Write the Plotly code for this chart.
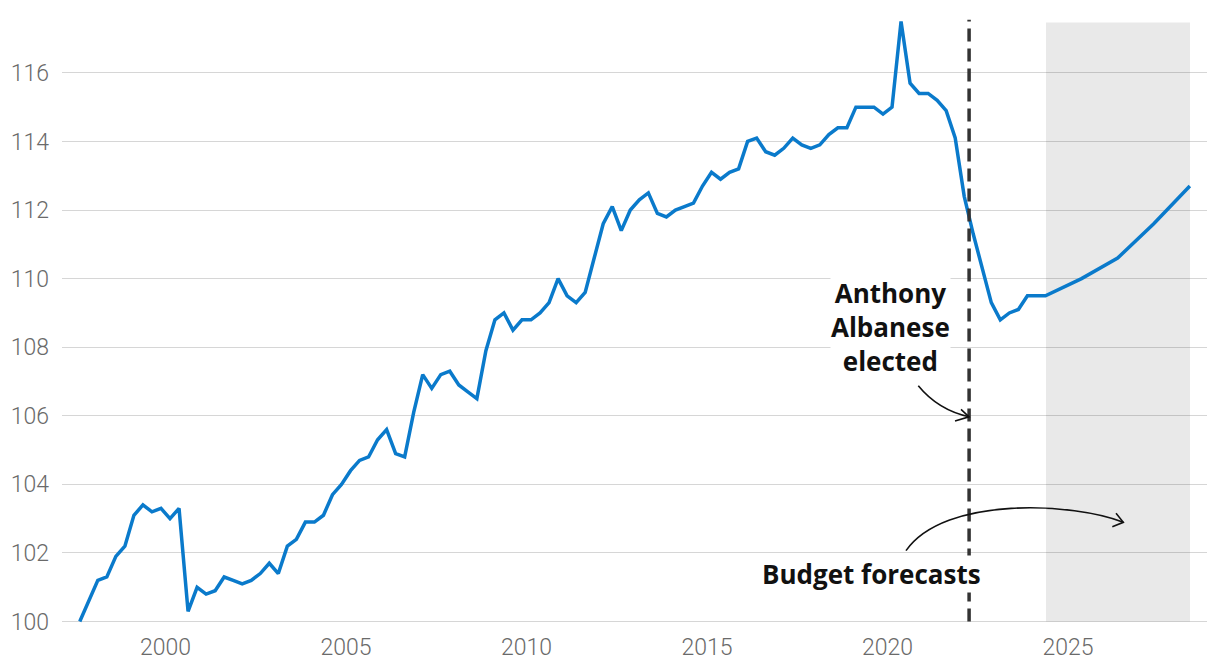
import plotly.graph_objects as go

# ── Data ──────────────────────────────────────────────────────────────────

# quarterly history, first quarter sits at 1997.625 on the decimal-year axis
FIRST_QUARTER = 1997.625
HIST = [
    100.0, 100.6, 101.2, 101.3, 101.9, 102.2, 103.1, 103.4, 103.2, 103.3,
    103.0, 103.3, 100.3, 101.0, 100.8, 100.9, 101.3, 101.2, 101.1, 101.2,
    101.4, 101.7, 101.4, 102.2, 102.4, 102.9, 102.9, 103.1, 103.7, 104.0,
    104.4, 104.7, 104.8, 105.3, 105.6, 104.9, 104.8, 106.1, 107.2, 106.8,
    107.2, 107.3, 106.9, 106.7, 106.5, 107.9, 108.8, 109.0, 108.5, 108.8,
    108.8, 109.0, 109.3, 110.0, 109.5, 109.3, 109.6, 110.6, 111.6, 112.1,
    111.4, 112.0, 112.3, 112.5, 111.9, 111.8, 112.0, 112.1, 112.2, 112.7,
    113.1, 112.9, 113.1, 113.2, 114.0, 114.1, 113.7, 113.6, 113.8, 114.1,
    113.9, 113.8, 113.9, 114.2, 114.4, 114.4, 115.0, 115.0, 115.0, 114.8,
    115.0, 117.5, 115.7, 115.4, 115.4, 115.2, 114.9, 114.1, 112.4, 111.3,
    110.3, 109.3, 108.8, 109.0, 109.1, 109.5, 109.5, 109.5,
]

# annual budget forecasts
FCST_YEARS = [2025.375, 2026.375, 2027.375, 2028.375]
FCST = [110.0, 110.6, 111.6, 112.7]

ELECTION = 2022.26
FORECAST_SPAN = (2024.39, 2028.38)

X_TICKS = [2000, 2005, 2010, 2015, 2020, 2025]
Y_TICKS = [100, 102, 104, 106, 108, 110, 112, 114, 116]

BLUE = "#0a7acb"
INK = "#111111"
TICK = "#6a6a6a"
GRID = "#d6d6d6"
TICK_FONT = "Roboto"
LABEL_FONT = "Open Sans"

# ── Figure ────────────────────────────────────────────────────────────────

hist_x = [FIRST_QUARTER + 0.25 * i for i in range(len(HIST))]
xs = hist_x + FCST_YEARS
ys = HIST + FCST

fig = go.Figure(go.Scatter(
    x=xs, y=ys, mode="lines",
    line=dict(color=BLUE, width=3.5),
    hoverinfo="skip",
))

# forecast period shading, sits between gridlines and the line
fig.add_shape(
    type="rect", xref="x", yref="y",
    x0=FORECAST_SPAN[0], x1=FORECAST_SPAN[1], y0=100, y1=117.47,
    fillcolor="rgba(0,0,0,0.085)", line_width=0, layer="between",
)

# election marker
fig.add_shape(
    type="line", xref="x", yref="y",
    x0=ELECTION, x1=ELECTION, y0=100, y1=117.55,
    line=dict(color="#333333", width=3.5, dash="13px,7px"), layer="above",
)

# curved arrows (hand drawn look)
arrow = dict(color=INK, width=1.6)
fig.add_shape(
    type="path", layer="above", line=arrow,
    path="M 2020.853,106.874 Q 2021.403,106.166 2022.258,105.971",
)
fig.add_shape(
    type="path", layer="above", line=arrow,
    path="M 2022.036,106.187 L 2022.258,105.971 L 2021.870,105.846",
)
fig.add_shape(
    type="path", layer="above", line=arrow,
    path="M 2020.512,102.068 C 2021.593,103.691 2025.194,103.458 2026.532,102.895",
)
fig.add_shape(
    type="path", layer="above", line=arrow,
    path="M 2026.330,103.158 L 2026.532,102.895 L 2026.227,102.767",
)

label_font = dict(family=LABEL_FONT, size=26, color=INK, weight=700)
fig.add_annotation(
    x=2020.07, y=108.58, xref="x", yref="y",
    text="Anthony<br>Albanese<br>elected",
    showarrow=False, align="center", font=label_font,
    bgcolor="white", borderpad=0,
)
fig.add_annotation(
    x=2019.557, y=101.40, xref="x", yref="y",
    text="Budget forecasts",
    showarrow=False, align="center", font=label_font,
    bgcolor="white", borderpad=0,
)

# the page body adds an 8px margin, so the figure is sized to fit inside it
fig.update_layout(
    width=1204, height=652,
    margin=dict(l=54, r=5, t=10, b=35),
    paper_bgcolor="white", plot_bgcolor="white",
    showlegend=False,
    font=dict(family=TICK_FONT, color=TICK, size=23),
    xaxis=dict(
        range=[1997.133, 2028.85],
        tickvals=X_TICKS, ticktext=[str(t) for t in X_TICKS],
        showgrid=False, zeroline=False, showline=False, automargin=False,
        tickfont=dict(family=TICK_FONT, size=23, color=TICK, weight=300),
        ticklabelstandoff=6,
    ),
    yaxis=dict(
        range=[99.9, 117.6],
        tickvals=Y_TICKS, ticktext=[str(t) for t in Y_TICKS],
        showgrid=True, gridcolor=GRID, gridwidth=1.3,
        zeroline=False, showline=False, automargin=False,
        tickfont=dict(family=TICK_FONT, size=23, color=TICK, weight=300),
        ticklabelstandoff=12,
    ),
)

fig.write_html("out.html")
